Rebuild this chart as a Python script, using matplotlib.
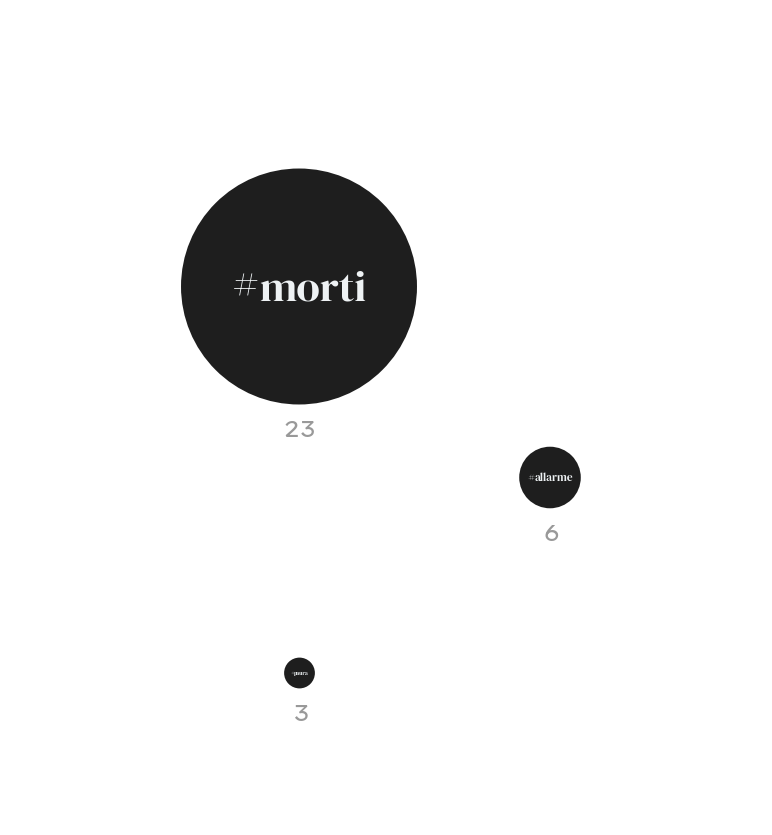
import matplotlib.pyplot as plt
from matplotlib.patches import Circle
from matplotlib.offsetbox import TextArea, HPacker, AnnotationBbox

# data
tags = ['morti', 'allarme', 'paura']
counts = [23, 6, 3]
# where each bubble sits (pixel layout of the original)
pos_x = [299, 550, 299.5]
pos_y = [286.5, 477.5, 673]

px_per_unit = 5.13   # bubble radius grows linearly with the count
font_per_unit = 31 / 23

hash_font = ['Playfair Display', 'Liberation Serif']
word_font = ['DM Serif Display', 'Liberation Serif']
wide = ['Lexend Zetta', 'DejaVu Sans']

fig = plt.figure(figsize=(7.72, 8.35), dpi=100)
ax = fig.add_axes([0, 0, 1, 1])
ax.set_xlim(0, 772)
ax.set_ylim(835, 0)
ax.set_aspect('equal')
ax.axis('off')

for tag, n, x, y in zip(tags, counts, pos_x, pos_y):
    r = n * px_per_unit
    ax.add_patch(Circle((x, y), r, color='#1e1e1e', lw=0))

    fs = n * font_per_unit
    hash_part = TextArea('#', textprops=dict(family=hash_font, size=fs,
                                             color='#eef2f4'))
    word_part = TextArea(tag, textprops=dict(family=word_font, size=fs,
                                             color='#eef2f4'))
    label = HPacker(children=[hash_part, word_part], pad=0, sep=0, align='baseline')
    ab = AnnotationBbox(label, (x, y + n * 0.08), frameon=False, box_alignment=(0.5, 0.5))
    ax.add_artist(ab)

    # the count under the bubble
    ax.text(x + 1, y + r + 26.5, str(n), ha='center', va='center',
            fontsize=16, color='#999999', family=wide)

fig.savefig('out.png', dpi=100, facecolor='white')
